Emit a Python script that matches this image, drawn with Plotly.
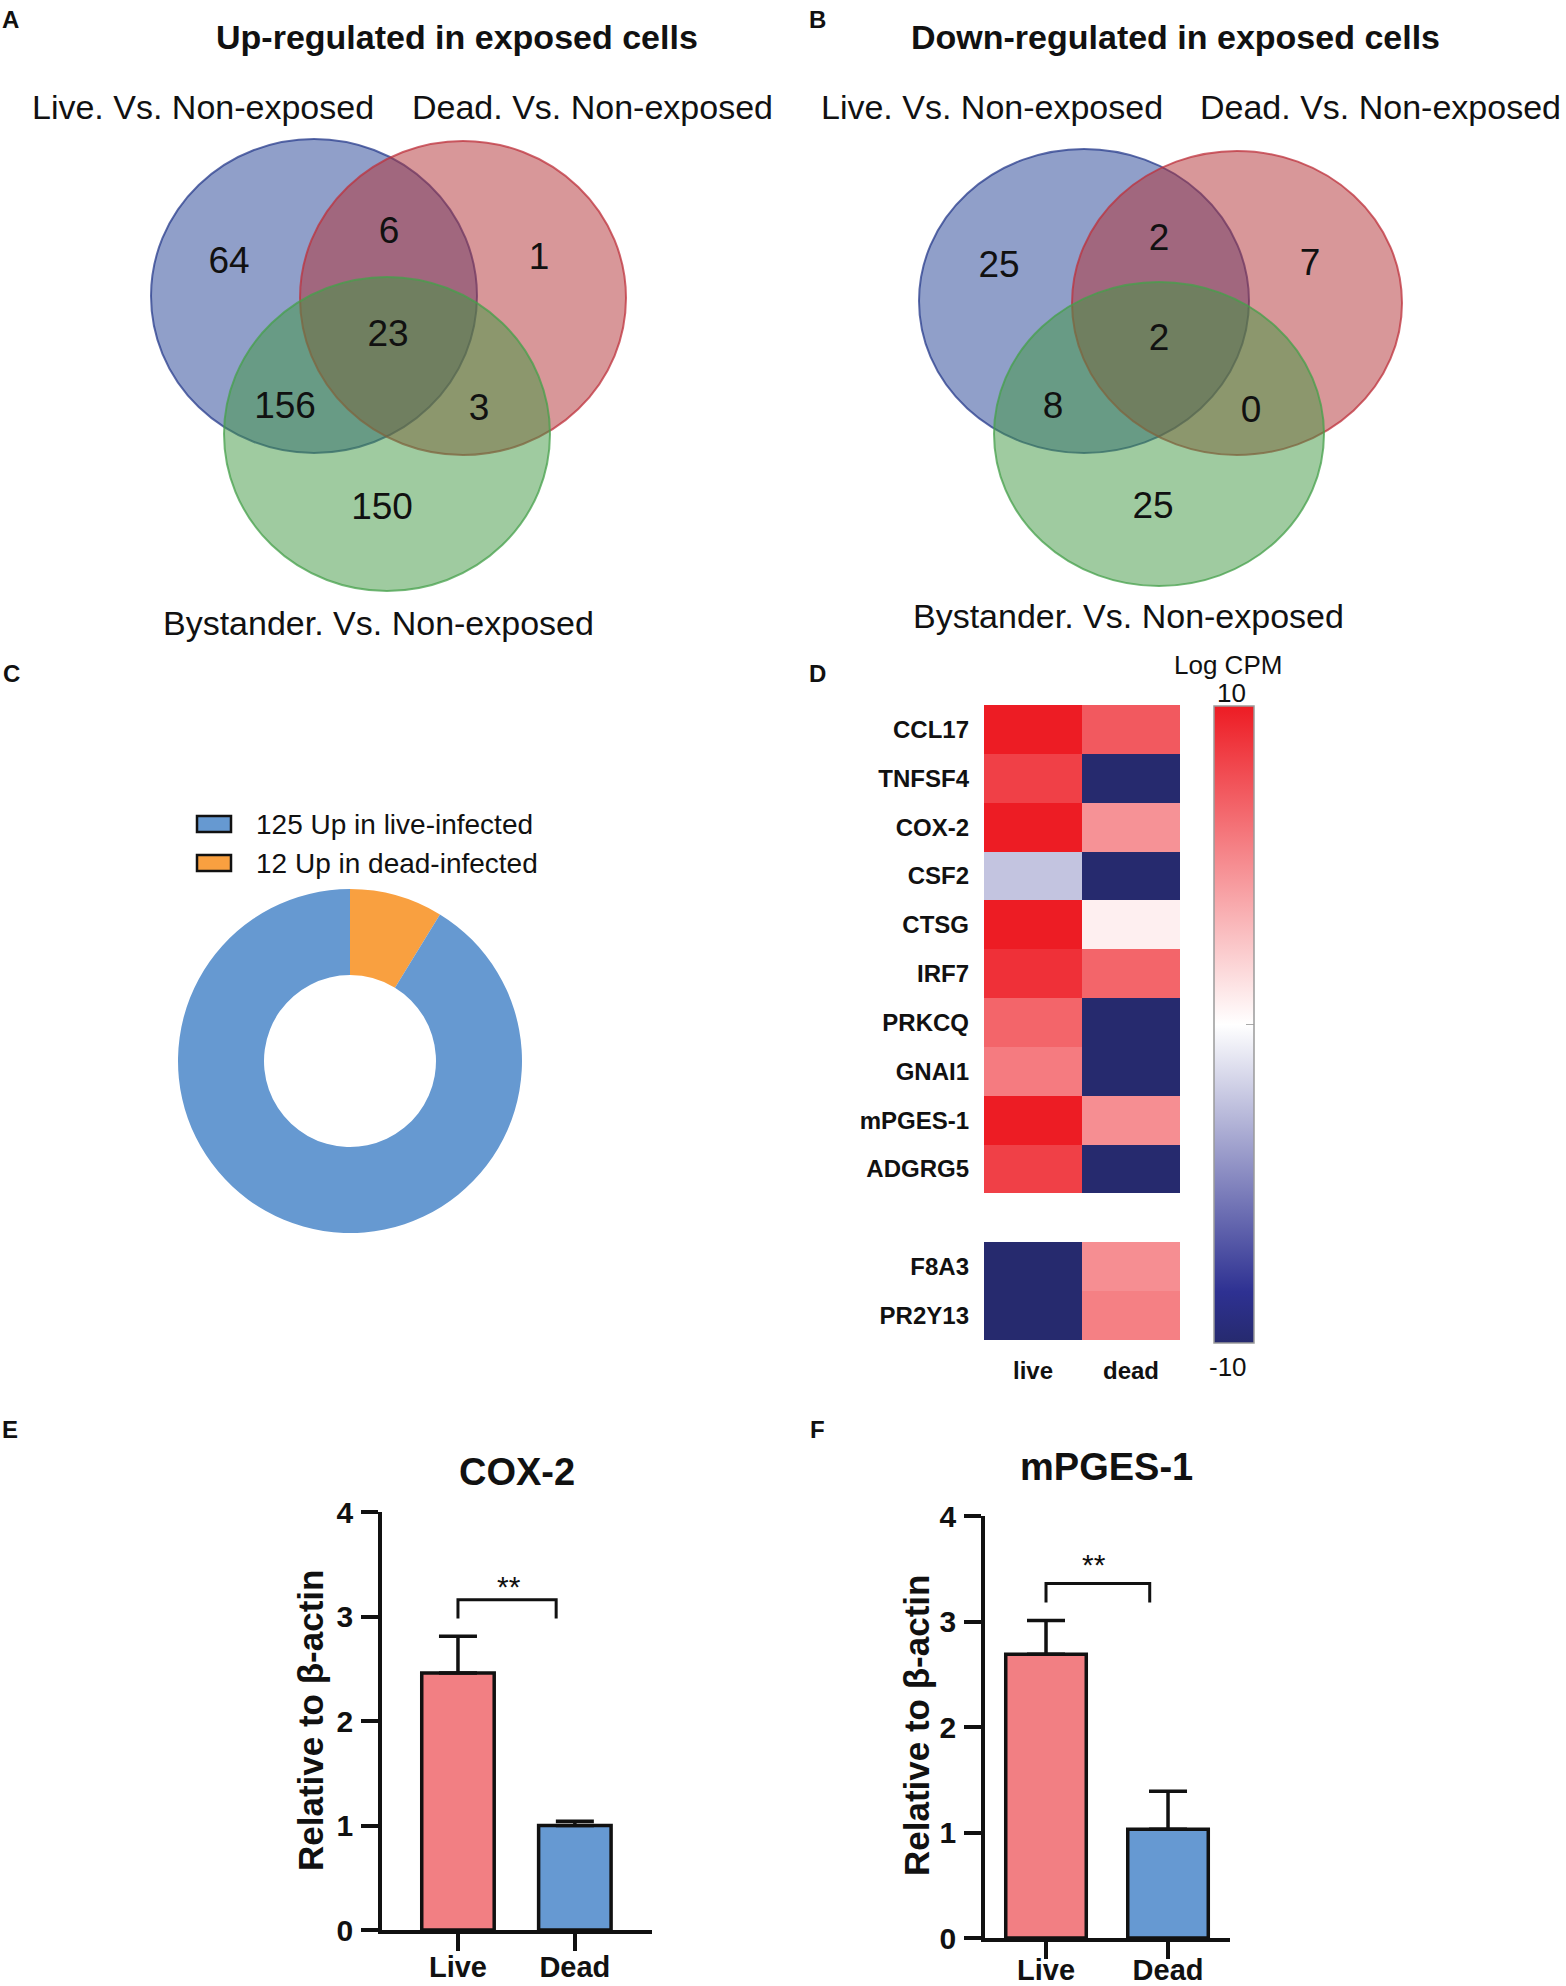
import plotly.graph_objects as go

W, H = 1566, 1986
FONT = "Liberation Sans, Arial, Helvetica, sans-serif"

# ---------------- data ----------------
venn_set_labels = ["Live. Vs. Non-exposed", "Dead. Vs. Non-exposed", "Bystander. Vs. Non-exposed"]
venn_regions = ["Live only", "Live & Dead", "Dead only", "All three", "Live & Bystander", "Dead & Bystander", "Bystander only"]
venn_up_counts = [64, 6, 1, 23, 156, 3, 150]
venn_down_counts = [25, 2, 7, 2, 8, 0, 25]

donut_labels = ["125 Up in live-infected", "12 Up in dead-infected"]
donut_values = [125, 12]

genes = ["CCL17", "TNFSF4", "COX-2", "CSF2", "CTSG", "IRF7", "PRKCQ", "GNAI1",
         "mPGES-1", "ADGRG5", "F8A3", "PR2Y13"]
heat_cols = ["live", "dead"]
logcpm_live = [10, 8.4, 10, -2.4, 10, 9.1, 6.8, 5.8, 10, 8.4, -10, -10]
logcpm_dead = [7.3, -10, 4.8, -10, 0.7, 6.8, -10, -10, 5.0, -10, 5.0, 5.6]

bar_groups = ["Live", "Dead"]
cox2_mean = [2.46, 1.00]
cox2_err = [0.35, 0.04]
mpges_mean = [2.69, 1.03]
mpges_err = [0.32, 0.36]

# ---------------- layout constants ----------------
def fx(x):
    return x / W

def fy(y):
    return 1 - y / H

BLACK = "#111111"
venn_fill = ["rgba(33,63,147,0.5)", "rgba(177,47,51,0.5)", "rgba(63,151,65,0.5)"]
venn_line = ["rgba(40,60,140,0.75)", "rgba(190,50,60,0.75)", "rgba(70,160,75,0.75)"]
venn_A_ell = [(314, 296, 163, 157), (463, 298, 163, 157), (387, 434, 163, 157)]
venn_B_ell = [(1084, 301, 165, 152), (1237, 303, 165, 152), (1159, 434, 165, 152)]
venn_A_pos = [(229, 264), (389, 234), (539, 260), (388, 337), (285, 409), (479, 411), (382, 510)]
venn_B_pos = [(999, 268), (1159, 241), (1310, 266), (1159, 341), (1053, 409), (1251, 413), (1153, 509)]

fig = go.Figure()

# Venn axes (pixel-like coordinates)
for ax_id, (x0, x1) in (("", (0, 783)), ("2", (783, 1566))):
    fig.update_layout(**{
        "xaxis" + ax_id: dict(domain=[fx(x0), fx(x1)], range=[x0, x1], visible=False,
                              fixedrange=True, automargin=False),
        "yaxis" + ax_id: dict(domain=[fy(640), 1], range=[640, 0], visible=False,
                              fixedrange=True, automargin=False),
    })

shapes = []
annotations = []

for ax_id, ells, pos, counts in (("", venn_A_ell, venn_A_pos, venn_up_counts),
                                 ("2", venn_B_ell, venn_B_pos, venn_down_counts)):
    for (cx, cy, rx, ry), fc, lc in zip(ells, venn_fill, venn_line):
        shapes.append(dict(type="circle", xref="x" + ax_id, yref="y" + ax_id,
                           x0=cx - rx, x1=cx + rx, y0=cy - ry, y1=cy + ry,
                           fillcolor=fc, line=dict(color=lc, width=2), layer="below"))
    fig.add_trace(go.Scatter(
        x=[p[0] for p in pos], y=[p[1] for p in pos], text=[str(c) for c in counts],
        customdata=venn_regions, mode="text", textfont=dict(size=37, color=BLACK, family=FONT),
        xaxis="x" + ax_id, yaxis="y" + ax_id, showlegend=False, hoverinfo="text+name"))

def ann(x, y, text, size, bold=False, xanchor="center", yanchor="middle", angle=0, color=BLACK):
    annotations.append(dict(x=fx(x), y=fy(y), xref="paper", yref="paper", text=text,
                            showarrow=False, xanchor=xanchor, yanchor=yanchor, textangle=angle,
                            font=dict(size=size, color=color, family=FONT,
                                      weight="bold" if bold else "normal")))

ann(457, 37, "Up-regulated in exposed cells", 34, bold=True)
ann(1175, 37, "Down-regulated in exposed cells", 34, bold=True)
ann(203, 107, venn_set_labels[0], 34)
ann(592, 107, venn_set_labels[1], 34)
ann(378, 623, venn_set_labels[2], 34)
ann(992, 107, venn_set_labels[0], 34)
ann(1563, 107, venn_set_labels[1], 34, xanchor="right")
ann(1128, 616, venn_set_labels[2], 34)

# Panel letters
for letter, (x, y) in zip("ABCDEF", [(10, 19), (817, 19), (11, 673), (817, 673), (10, 1429), (817, 1429)]):
    ann(x, y, letter, 24, bold=True)

# ---------------- C: donut ----------------
pie_colors = ["#6699D1", "#F9A040"]
fig.add_trace(go.Pie(labels=donut_labels[::-1], values=donut_values[::-1], hole=0.5, sort=False,
                     direction="clockwise", rotation=0, textinfo="none",
                     marker=dict(colors=pie_colors[::-1], line=dict(width=0)),
                     domain=dict(x=[fx(178), fx(522)], y=[fy(1233), fy(889)]),
                     showlegend=False))
for i, (lab, col) in enumerate(zip(donut_labels, pie_colors)):
    yc = 824 + i * 39
    shapes.append(dict(type="rect", xref="paper", yref="paper",
                       x0=fx(197), x1=fx(231), y0=fy(yc - 8), y1=fy(yc + 8),
                       fillcolor=col, line=dict(color=BLACK, width=2.5)))
    ann(254, yc, lab, 28, xanchor="left")

# ---------------- D: heatmap ----------------
rows = list(range(13))
z = [[a, b] for a, b in zip(logcpm_live[:10], logcpm_dead[:10])]
z.append([None, None])
z += [[a, b] for a, b in zip(logcpm_live[10:], logcpm_dead[10:])]
row_text = genes[:10] + [""] + genes[10:]
fig.add_trace(go.Heatmap(
    z=z, x=[0, 1], y=rows, zmin=-10, zmax=10, xaxis="x3", yaxis="y3",
    colorscale=[[0, "#262A6E"], [0.08, "#2E3192"], [0.5, "#FFFFFF"], [1, "#ED1C24"]],
    xgap=0, ygap=0, hoverongaps=False,
    colorbar=dict(x=fx(1214), xanchor="left", xpad=0, ypad=0, thickness=40,
                  len=(1343 - 706) / H, lenmode="fraction", y=fy(1024.5), yanchor="middle",
                  outlinecolor="#9a9a9a", outlinewidth=1.5, tickvals=[0], ticks="inside",
                  ticklen=8, tickcolor="#aaaaaa", showticklabels=False)))
fig.update_layout(
    xaxis3=dict(domain=[fx(984), fx(1180)], range=[-0.5, 1.5], tickvals=[0, 1], ticktext=heat_cols,
                anchor="y3", showgrid=False, zeroline=False, ticks="", ticklabelstandoff=14,
                automargin=False,
                tickfont=dict(size=24, family=FONT, color=BLACK, weight="bold")),
    yaxis3=dict(domain=[fy(1340), fy(705)], range=[12.5, -0.5], tickvals=rows, ticktext=row_text,
                anchor="x3", showgrid=False, zeroline=False, ticks="", ticklabelstandoff=14,
                automargin=False,
                tickfont=dict(size=24, family=FONT, color=BLACK, weight="bold")),
)
ann(1228, 665, "Log CPM", 26)
ann(1231, 693, "10", 26)
ann(1228, 1367, "-10", 26)

# ---------------- E, F: bars ----------------
bar_colors = ["#F27F83", "#6699D2"]
axis_common = dict(showline=True, linewidth=3.5, linecolor=BLACK, ticks="outside", ticklen=17,
                   tickwidth=3.5, tickcolor=BLACK, showgrid=False, zeroline=False,
                   fixedrange=True, automargin=False)

def bar_panel(idx, means, errs, xdom, ydom, xrange, width, bracket, star, title, title_xy,
              ytitle_xy, xlab_standoff):
    xa, ya = "x" + idx, "y" + idx
    fig.add_trace(go.Bar(
        x=[0, 1], y=means, width=width, xaxis=xa, yaxis=ya, showlegend=False,
        marker=dict(color=bar_colors, line=dict(color=BLACK, width=3.5)),
        error_y=dict(type="data", array=errs, arrayminus=[0, 0], symmetric=False,
                     color=BLACK, thickness=3.5, width=19)))
    bx0, bx1, by_leg, by_top = bracket
    fig.add_trace(go.Scatter(x=[bx0, bx0, bx1, bx1], y=[by_leg, by_top, by_top, by_leg],
                             mode="lines", line=dict(color=BLACK, width=3), xaxis=xa, yaxis=ya,
                             showlegend=False, hoverinfo="skip"))
    fig.update_layout(**{
        "xaxis" + idx: dict(domain=[fx(xdom[0]), fx(xdom[1])], range=xrange, tickvals=[0, 1],
                            ticktext=bar_groups, anchor=ya, ticklabelstandoff=xlab_standoff,
                            tickfont=dict(size=29, family=FONT, color=BLACK, weight="bold"),
                            **axis_common),
        "yaxis" + idx: dict(domain=[fy(ydom[1]), fy(ydom[0])], range=[0, 4], tickvals=[0, 1, 2, 3, 4],
                            anchor=xa, ticklabelstandoff=2,
                            tickfont=dict(size=30, family=FONT, color=BLACK, weight="bold"),
                            **axis_common),
    })
    annotations.append(dict(x=star[0], y=star[1], xref=xa, yref=ya, text="**", showarrow=False,
                            font=dict(size=30, family=FONT, color=BLACK)))
    ann(title_xy[0], title_xy[1], title, 38, bold=True)
    ann(ytitle_xy[0], ytitle_xy[1], "Relative to β-actin", 35, bold=True, angle=-90)

bar_panel("4", cox2_mean, cox2_err, (382, 652), (1512, 1930), [-0.65, 1.66], 0.62,
          (0, 0.84, 2.98, 3.16), (0.44, 3.29), "COX-2", (517, 1472), (310, 1721), -9)
bar_panel("5", mpges_mean, mpges_err, (985, 1230), (1516, 1938), [-0.5, 1.508], 0.66,
          (0, 0.85, 3.18, 3.36), (0.39, 3.54), "mPGES-1", (1106, 1467), (916, 1726), -14)

fig.update_layout(
    width=W, height=H, margin=dict(l=0, r=0, t=0, b=0, pad=0, autoexpand=False),
    paper_bgcolor="white", plot_bgcolor="rgba(0,0,0,0)",
    font=dict(family=FONT, color=BLACK),
    shapes=shapes, annotations=annotations, showlegend=False,
)

fig.write_html("out.html", config={"displayModeBar": False},
               post_script="document.body.style.margin='0px';document.body.style.padding='0px';"
                           "document.documentElement.style.overflow='hidden';")
